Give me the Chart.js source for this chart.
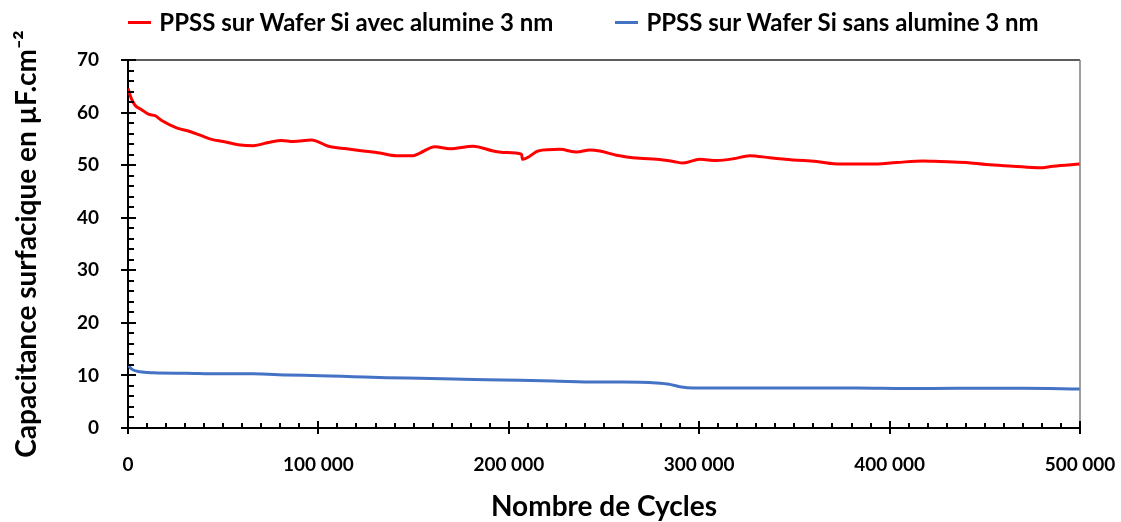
<!DOCTYPE html>
<html lang="fr">
<head>
<meta charset="utf-8">
<title>Capacitance surfacique - cyclage</title>
<script src="https://cdn.jsdelivr.net/npm/chart.js@4.4.1/dist/chart.umd.min.js"></script>
<style>
  html, body { margin: 0; padding: 0; background: #fff; }
  #zone { position: relative; width: 1121px; height: 522px; }
  #legende {
    position: absolute; top: 7px; left: 0; width: 1121px;
    box-sizing: border-box; padding-left: 46px;
    display: flex; justify-content: center; gap: 62px;
    font-family: Lato, sans-serif; font-weight: bold; font-size: 24px; color: #000;
  }
  .item { display: flex; align-items: center; white-space: nowrap; line-height: 30px; }
  .trait { display: inline-block; width: 23px; height: 3px; margin-right: 8px; }
</style>
</head>
<body>
<div id="zone">
  <canvas id="chart-capa" width="1121" height="522"></canvas>
  <div id="legende"></div>
</div>
<script>
'use strict';

//////////////////////////////////////////////////////////////////////
// Données : capacitance surfacique (µF.cm-2) en fonction du nombre de cycles
//////////////////////////////////////////////////////////////////////

const cyclesAvec = [
  0, 1600, 3700, 7000, 10700, 14200, 17700, 25500, 32500, 37800,
  43900, 50000, 57900, 65800, 73700, 80700, 86800, 96400, 105200, 114800,
  123600, 132300, 141100, 149800, 153300, 161200, 169000, 181300, 191800, 198800,
  206700, 207200, 211000, 215400, 226800, 235600, 242500, 247800, 256500, 268800,
  277600, 286300, 291600, 300300, 309100, 317800, 326600, 337100, 349300, 361600,
  373800, 389600, 403600, 417600, 426300, 440300, 450800, 464800, 478800, 485800,
  500000
];
const capaAvec = [
  64.6, 62.8, 61.4, 60.6, 59.7, 59.4, 58.5, 57.1, 56.4, 55.7,
  54.9, 54.5, 53.9, 53.7, 54.3, 54.7, 54.5, 54.8, 53.6, 53.1,
  52.7, 52.3, 51.8, 51.8, 52.3, 53.5, 53.1, 53.6, 52.7, 52.4,
  52.1, 51.1, 51.7, 52.7, 53.0, 52.5, 52.9, 52.7, 51.9, 51.3,
  51.1, 50.7, 50.4, 51.1, 50.9, 51.2, 51.8, 51.4, 51.0, 50.7,
  50.2, 50.2, 50.5, 50.8, 50.7, 50.5, 50.1, 49.8, 49.5, 49.8,
  50.2
];

const cyclesSans = [
  0, 1900, 6300, 13300, 30800, 48300, 65800, 83300, 100800, 118300,
  135800, 153300, 170800, 188300, 205800, 223300, 246100, 260000, 277600, 284600,
  289800, 296800, 312600, 347600, 382600, 408800, 435100, 470100, 500000
];
const capaSans = [
  12.0, 11.2, 10.7, 10.5, 10.4, 10.3, 10.3, 10.1, 9.95, 9.76,
  9.57, 9.45, 9.32, 9.19, 9.07, 8.94, 8.75, 8.75, 8.56, 8.3,
  7.86, 7.6, 7.6, 7.6, 7.6, 7.5, 7.55, 7.55, 7.4
];

const ticksCycles = [0, 100000, 200000, 300000, 400000, 500000];
const ticksCapa = [0, 10, 20, 30, 40, 50, 60, 70];

const labelAvec = 'PPSS sur Wafer Si avec alumine 3 nm';
const labelSans = 'PPSS sur Wafer Si sans alumine 3 nm';
const titreX = 'Nombre de Cycles';
const titreY = 'Capacitance surfacique en µF.cm⁻²';

const COULEUR_AVEC = '#ff0000';
const COULEUR_SANS = '#4472c4';
const POLICE = 'Lato, sans-serif';

//////////////////////////////////////////////////////////////////////
// Helpers
//////////////////////////////////////////////////////////////////////

function versPoints(xs, ys) {
  return xs.map(function (x, i) {
    return { x: x, y: ys[i] };
  });
}

function formaterMilliers(v) {
  return String(v).replace(/\B(?=(\d{3})+(?!\d))/g, ' ');
}

function construireLegende(datasets) {
  const cont = document.getElementById('legende');
  datasets.forEach(function (ds) {
    const item = document.createElement('span');
    item.className = 'item';
    const trait = document.createElement('span');
    trait.className = 'trait';
    trait.style.background = ds.borderColor;
    item.appendChild(trait);
    item.appendChild(document.createTextNode(ds.label));
    cont.appendChild(item);
  });
}

// graduations façon Excel : majeures qui traversent l'axe, mineures vers l'intérieur
const pluginGraduations = {
  id: 'graduations',
  afterDraw: function (chart) {
    const ctx = chart.ctx;
    const area = chart.chartArea;
    const sx = chart.scales.x;
    const sy = chart.scales.y;

    ctx.save();

    // cadre haut et droit
    ctx.lineWidth = 1.5;
    ctx.strokeStyle = '#262626';
    ctx.beginPath();
    ctx.moveTo(area.left, area.top);
    ctx.lineTo(area.right, area.top);
    ctx.stroke();
    ctx.strokeStyle = '#7f7f7f';
    ctx.beginPath();
    ctx.moveTo(area.right, area.top);
    ctx.lineTo(area.right, area.bottom);
    ctx.stroke();

    ctx.strokeStyle = '#000';
    ctx.lineWidth = 2;
    ctx.beginPath();
    for (let v = sx.min; v <= sx.max; v += 10000) {
      const px = Math.round(sx.getPixelForValue(v));
      const majeure = v % 100000 === 0;
      ctx.moveTo(px, area.bottom - (majeure ? 7 : 5));
      ctx.lineTo(px, area.bottom + (majeure ? 6 : 0));
    }
    for (let v = sy.min; v <= sy.max; v += 2) {
      const py = Math.round(sy.getPixelForValue(v));
      const majeure = v % 10 === 0;
      ctx.moveTo(area.left - (majeure ? 7 : 0), py);
      ctx.lineTo(area.left + (majeure ? 8 : 6), py);
    }
    ctx.stroke();
    ctx.restore();
  }
};

//////////////////////////////////////////////////////////////////////
// Graphique
//////////////////////////////////////////////////////////////////////

function dessinerChartCapa() {
  const canvas = document.getElementById('chart-capa');
  if (!canvas || typeof Chart === 'undefined') return;

  const datasets = [
    {
      label: labelAvec,
      data: versPoints(cyclesAvec, capaAvec),
      borderColor: COULEUR_AVEC,
      backgroundColor: COULEUR_AVEC,
      borderWidth: 3,
      pointRadius: 0,
      cubicInterpolationMode: 'monotone',
      fill: false
    },
    {
      label: labelSans,
      data: versPoints(cyclesSans, capaSans),
      borderColor: COULEUR_SANS,
      backgroundColor: COULEUR_SANS,
      borderWidth: 3,
      pointRadius: 0,
      cubicInterpolationMode: 'monotone',
      fill: false
    }
  ];

  construireLegende(datasets);

  const fontTicks = { family: POLICE, weight: 'bold', size: 19 };
  const fontTitreX = { family: POLICE, weight: 'bold', size: 28, lineHeight: 1.05 };
  const fontTitreY = { family: POLICE, weight: 'bold', size: 28 };

  return new Chart(canvas.getContext('2d'), {
    type: 'line',
    data: { datasets: datasets },
    plugins: [pluginGraduations],
    options: {
      responsive: false,
      animation: false,
      events: [],
      layout: { padding: { top: 60, right: 41, left: 0, bottom: 0 } },
      plugins: {
        legend: { display: false },
        tooltip: { enabled: false }
      },
      scales: {
        x: {
          type: 'linear',
          min: 0,
          max: 500000,
          afterFit: function (scale) {
            scale.height = 94;
            scale.paddingLeft = 0;
            scale.paddingRight = 0;
          },
          afterBuildTicks: function (scale) {
            scale.ticks = ticksCycles.map(function (v) { return { value: v }; });
          },
          grid: { display: false },
          border: { display: true, color: '#000', width: 2 },
          ticks: {
            color: '#000',
            font: fontTicks,
            padding: 17,
            maxRotation: 0,
            callback: function (v) { return formaterMilliers(v); }
          },
          title: {
            display: true,
            text: titreX,
            color: '#000',
            font: fontTitreX,
            padding: { top: 0, bottom: 0 }
          }
        },
        y: {
          min: 0,
          max: 70,
          afterFit: function (scale) {
            scale.width = 128;
            scale.paddingTop = 0;
            scale.paddingBottom = 0;
          },
          afterBuildTicks: function (scale) {
            scale.ticks = ticksCapa.map(function (v) { return { value: v }; });
          },
          grid: { display: false },
          border: { display: true, color: '#000', width: 2 },
          ticks: {
            color: '#000',
            font: fontTicks,
            padding: 21
          },
          title: {
            display: true,
            text: titreY,
            color: '#000',
            font: fontTitreY,
            padding: { top: 10, bottom: 0 }
          }
        }
      }
    }
  });
}

dessinerChartCapa();
</script>
</body>
</html>
